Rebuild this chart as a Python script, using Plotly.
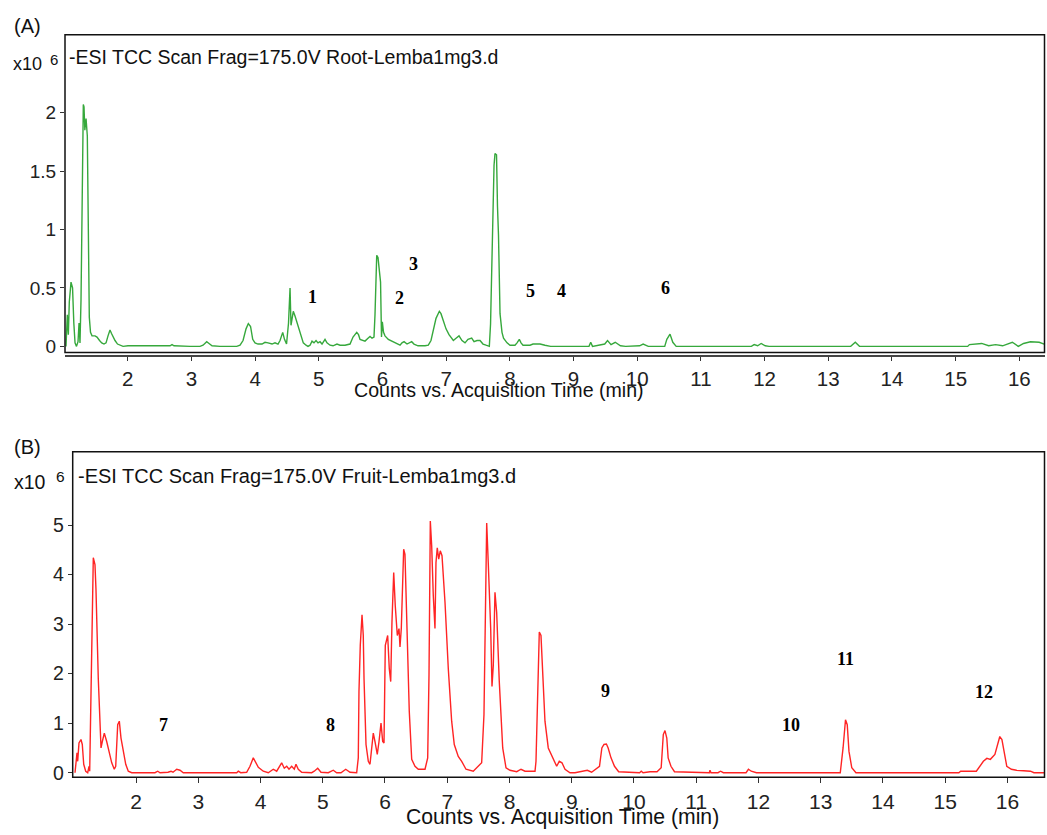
import plotly.graph_objects as go

# ---------------- data (signal in units of 10^6 counts) ----------------
root_time = [1.031, 1.052, 1.068, 1.083, 1.110, 1.134, 1.154, 1.173, 1.196, 1.220,
             1.236, 1.251, 1.267, 1.283, 1.303, 1.314, 1.327, 1.346, 1.366, 1.382,
             1.397, 1.416, 1.440, 1.487, 1.518, 1.558, 1.592, 1.628, 1.660, 1.691,
             1.722, 1.746, 1.770, 1.801, 1.840, 1.880, 1.927, 2.005, 2.115, 2.272,
             2.350, 2.429, 2.665, 2.696, 2.727, 2.979, 3.135, 3.183, 3.241, 3.277,
             3.324, 3.449, 3.712, 3.764, 3.811, 3.858, 3.894, 3.929, 3.963, 3.999,
             4.046, 4.109, 4.156, 4.203, 4.266, 4.313, 4.360, 4.392, 4.434, 4.462,
             4.494, 4.525, 4.549, 4.564, 4.600, 4.627, 4.658, 4.698, 4.729, 4.757,
             4.800, 4.831, 4.863, 4.894, 4.925, 4.957, 4.988, 5.020, 5.051, 5.098,
             5.129, 5.177, 5.224, 5.286, 5.334, 5.412, 5.491, 5.538, 5.596, 5.624,
             5.648, 5.695, 5.726, 5.773, 5.805, 5.836, 5.867, 5.883, 5.910, 5.930,
             5.954, 5.970, 5.985, 5.998, 6.017, 6.040, 6.092, 6.134, 6.197, 6.244,
             6.276, 6.307, 6.339, 6.386, 6.433, 6.459, 6.495, 6.558, 6.668, 6.720,
             6.762, 6.799, 6.841, 6.893, 6.919, 6.956, 6.998, 7.045, 7.113, 7.155,
             7.202, 7.249, 7.296, 7.343, 7.401, 7.438, 7.485, 7.532, 7.579, 7.626,
             7.678, 7.697, 7.720, 7.752, 7.767, 7.791, 7.806, 7.822, 7.846, 7.877,
             7.901, 7.956, 8.003, 8.081, 8.113, 8.149, 8.176, 8.207, 8.317, 8.364,
             8.427, 8.474, 8.552, 8.640, 9.243, 9.270, 9.298, 9.490, 9.534, 9.589,
             9.655, 9.737, 9.818, 10.038, 10.093, 10.174, 10.432, 10.465, 10.515, 10.559,
             10.612, 11.792, 11.836, 11.891, 11.946, 12.010, 12.070, 13.352, 13.424, 13.490,
             15.189, 15.216, 15.408, 15.518, 15.627, 15.737, 15.890, 15.984, 16.066, 16.175,
             16.312, 16.390]
root_signal = [0.00, 0.27, 0.10, 0.38, 0.55, 0.50, 0.20, 0.03, 0.00, 0.04,
               0.20, 0.03, 0.40, 1.30, 2.07, 2.05, 1.85, 1.95, 1.80, 1.00,
               0.25, 0.12, 0.09, 0.09, 0.08, 0.05, 0.03, 0.02, 0.03, 0.09,
               0.14, 0.11, 0.08, 0.05, 0.02, 0.01, 0.00, 0.005, 0.005, 0.00,
               0.005, 0.00, 0.005, 0.015, 0.005, 0.00, 0.00, 0.01, 0.04, 0.025,
               0.005, 0.00, 0.00, 0.01, 0.05, 0.15, 0.195, 0.17, 0.06, 0.03,
               0.02, 0.02, 0.035, 0.03, 0.02, 0.03, 0.02, 0.05, 0.12, 0.06,
               0.02, 0.20, 0.50, 0.18, 0.30, 0.26, 0.20, 0.13, 0.07, 0.03,
               0.01, 0.00, 0.01, 0.045, 0.03, 0.05, 0.03, 0.04, 0.02, 0.06,
               0.03, 0.01, 0.005, 0.02, 0.01, 0.01, 0.02, 0.08, 0.12, 0.10,
               0.06, 0.05, 0.045, 0.07, 0.085, 0.07, 0.08, 0.27, 0.78, 0.76,
               0.60, 0.55, 0.08, 0.21, 0.12, 0.09, 0.06, 0.05, 0.03, 0.02,
               0.01, 0.03, 0.04, 0.02, 0.03, 0.04, 0.02, 0.005, 0.005, 0.01,
               0.05, 0.14, 0.24, 0.30, 0.28, 0.22, 0.15, 0.10, 0.05, 0.07,
               0.09, 0.05, 0.03, 0.06, 0.07, 0.04, 0.05, 0.05, 0.02, 0.01,
               0.00, 0.19, 0.80, 1.55, 1.65, 1.64, 1.20, 0.95, 0.28, 0.12,
               0.07, 0.03, 0.01, 0.01, 0.03, 0.06, 0.03, 0.01, 0.01, 0.02,
               0.02, 0.02, 0.01, 0.00, 0.00, 0.035, 0.00, 0.02, 0.05, 0.015,
               0.035, 0.005, 0.00, 0.005, 0.02, 0.00, 0.00, 0.06, 0.105, 0.035,
               0.00, 0.00, 0.015, 0.005, 0.025, 0.005, 0.00, 0.00, 0.035, 0.00,
               0.00, 0.015, 0.025, 0.005, 0.015, 0.005, 0.035, 0.00, 0.025, 0.04,
               0.035, 0.02]

fruit_time = [1.020, 1.052, 1.063, 1.084, 1.116, 1.137, 1.160, 1.192, 1.224, 1.245,
              1.256, 1.277, 1.314, 1.341, 1.357, 1.394, 1.438, 1.459, 1.491, 1.529,
              1.566, 1.610, 1.651, 1.674, 1.706, 1.732, 1.759, 1.796, 1.835, 1.876,
              1.931, 2.305, 2.349, 2.386, 2.514, 2.562, 2.594, 2.654, 2.707, 2.760,
              3.618, 3.643, 3.682, 3.778, 3.831, 3.884, 3.923, 3.965, 4.045, 4.125,
              4.205, 4.260, 4.340, 4.382, 4.421, 4.458, 4.501, 4.543, 4.570, 4.607,
              4.662, 4.822, 4.864, 4.919, 4.972, 5.089, 5.169, 5.224, 5.293, 5.369,
              5.438, 5.545, 5.571, 5.582, 5.603, 5.631, 5.651, 5.663, 5.695, 5.732,
              5.759, 5.775, 5.812, 5.839, 5.876, 5.904, 5.936, 5.963, 5.984, 6.005,
              6.043, 6.069, 6.092, 6.112, 6.140, 6.165, 6.198, 6.225, 6.241, 6.262,
              6.284, 6.300, 6.321, 6.348, 6.390, 6.429, 6.482, 6.535, 6.643, 6.686,
              6.707, 6.728, 6.750, 6.776, 6.803, 6.819, 6.840, 6.863, 6.888, 6.916,
              6.964, 7.017, 7.071, 7.113, 7.177, 7.232, 7.301, 7.418, 7.499, 7.553,
              7.590, 7.611, 7.634, 7.659, 7.698, 7.719, 7.740, 7.767, 7.794, 7.836,
              7.891, 7.944, 8.008, 8.116, 8.185, 8.249, 8.410, 8.426, 8.453, 8.479,
              8.506, 8.533, 8.570, 8.623, 8.694, 8.758, 8.800, 8.843, 8.892, 8.972,
              9.052, 9.250, 9.319, 9.390, 9.446, 9.484, 9.518, 9.557, 9.585, 9.631,
              9.687, 9.754, 10.090, 10.117, 10.146, 10.257, 10.370, 10.437, 10.471, 10.498,
              10.527, 10.549, 10.594, 10.651, 11.211, 11.221, 11.237, 11.350, 11.391, 11.436,
              11.800, 11.839, 11.884, 11.968, 13.314, 13.359, 13.398, 13.426, 13.454, 13.499,
              13.566, 15.219, 15.248, 15.500, 15.557, 15.613, 15.669, 15.725, 15.798, 15.837,
              15.877, 15.911, 15.952, 15.989, 16.063, 16.145, 16.370, 16.426, 16.595]
fruit_signal = [0.00, 0.40, 0.23, 0.60, 0.67, 0.57, 0.17, 0.03, 0.00, 0.13,
                0.03, 1.90, 4.34, 4.20, 3.70, 1.90, 0.50, 0.63, 0.80, 0.63,
                0.40, 0.20, 0.07, 0.13, 0.97, 1.04, 0.70, 0.43, 0.17, 0.03,
                0.00, 0.00, 0.03, 0.00, 0.01, 0.03, 0.01, 0.07, 0.05, 0.00,
                0.00, 0.03, 0.00, 0.01, 0.13, 0.30, 0.20, 0.11, 0.03, 0.00,
                0.07, 0.03, 0.20, 0.09, 0.13, 0.07, 0.13, 0.07, 0.17, 0.07,
                0.01, 0.00, 0.03, 0.09, 0.01, 0.00, 0.05, 0.00, 0.00, 0.07,
                0.01, 0.00, 0.30, 1.64, 2.57, 3.19, 2.77, 1.90, 0.57, 0.23,
                0.17, 0.37, 0.80, 0.63, 0.37, 0.63, 1.00, 0.63, 0.60, 2.57,
                2.77, 2.10, 1.84, 3.04, 4.04, 3.37, 2.77, 2.91, 2.54, 2.91,
                3.90, 4.51, 4.41, 2.91, 1.24, 0.27, 0.13, 0.07, 0.07, 0.30,
                1.97, 5.08, 4.58, 3.57, 2.91, 4.24, 4.54, 4.31, 4.48, 4.38,
                3.44, 2.10, 1.04, 0.57, 0.33, 0.23, 0.07, 0.03, 0.13, 0.20,
                1.17, 3.57, 5.04, 4.24, 2.91, 1.74, 2.17, 3.64, 3.24, 1.84,
                0.50, 0.10, 0.05, 0.02, 0.07, 0.03, 0.03, 0.23, 1.57, 2.84,
                2.77, 2.04, 1.04, 0.50, 0.30, 0.13, 0.23, 0.20, 0.07, 0.00,
                0.00, 0.05, 0.01, 0.07, 0.13, 0.50, 0.57, 0.58, 0.50, 0.30,
                0.13, 0.02, 0.00, 0.03, 0.00, 0.02, 0.02, 0.10, 0.77, 0.85,
                0.70, 0.30, 0.13, 0.02, 0.00, 0.05, 0.00, 0.00, 0.03, 0.00,
                0.00, 0.07, 0.03, 0.00, 0.00, 0.50, 1.07, 0.97, 0.43, 0.10,
                0.00, 0.00, 0.03, 0.03, 0.13, 0.23, 0.29, 0.27, 0.37, 0.57,
                0.73, 0.67, 0.37, 0.13, 0.07, 0.05, 0.03, 0.00, 0.00]

root_labels = ["1", "2", "3", "5", "4", "6"]
root_label_time = [4.905, 6.275, 6.484, 8.328, 8.816, 10.449]
root_label_signal = [0.424, 0.41, 0.707, 0.472, 0.472, 0.498]

fruit_labels = ["7", "8", "9", "10", "11", "12"]
fruit_label_time = [2.439, 5.117, 9.541, 12.528, 13.398, 15.629]
fruit_label_signal = [0.968, 0.968, 1.655, 0.968, 2.305, 1.635]

root_yticks = [0, 0.5, 1, 1.5, 2]
root_ytext = ["0", "0.5", "1", "1.5", "2"]
fruit_yticks = [0, 1, 2, 3, 4, 5]
x_ticks = list(range(2, 17))

root_header = "-ESI TCC Scan Frag=175.0V Root-Lemba1mg3.d"
fruit_header = "-ESI TCC Scan Frag=175.0V Fruit-Lemba1mg3.d"
x_title = "Counts vs. Acquisition Time (min)"

# ---------------- layout geometry ----------------
W, H = 1047, 835
def px(x):
    return x / W
def py(y):
    return 1 - y / H

SANS = "Liberation Sans, Arial, sans-serif"
SERIF = "Liberation Serif, Times New Roman, serif"

top_dom_x = [px(65), px(1044.5)]
top_dom_y = [py(355), py(35)]
bot_dom_x = [px(72.7), px(1044.5)]
bot_dom_y = [py(783), py(455)]

fig = go.Figure()
fig.add_trace(go.Scatter(x=root_time, y=root_signal, mode="lines",
                         line=dict(color="#36a83c", width=1.4),
                         xaxis="x", yaxis="y", hoverinfo="skip"))
fig.add_trace(go.Scatter(x=fruit_time, y=fruit_signal, mode="lines",
                         line=dict(color="#ff2424", width=1.4),
                         xaxis="x2", yaxis="y2", hoverinfo="skip"))

annotations = []
for lab, t, v in zip(root_labels, root_label_time, root_label_signal):
    annotations.append(dict(x=t, y=v, xref="x", yref="y", text="<b>%s</b>" % lab,
                            showarrow=False, font=dict(family=SERIF, size=18, color="black")))
for lab, t, v in zip(fruit_labels, fruit_label_time, fruit_label_signal):
    annotations.append(dict(x=t, y=v, xref="x2", yref="y2", text="<b>%s</b>" % lab,
                            showarrow=False, font=dict(family=SERIF, size=18, color="black")))

def txt(x, y, s, size, anchor="left"):
    return dict(x=px(x), y=py(y), xref="paper", yref="paper", text=s, showarrow=False,
                xanchor=anchor, yanchor="middle",
                font=dict(family=SANS, size=size, color="#111"))

annotations += [
    txt(12, 26.5, "(A)", 20),
    txt(11, 64, "x10", 18),
    txt(48, 60, "6", 15),
    txt(67, 57.5, root_header, 19.5),
    txt(499, 393, x_title, 19.6, "center"),
    txt(12, 450, "(B)", 20),
    txt(12, 485, "x10", 19.5),
    txt(54, 480, "6", 15.5),
    txt(76, 479, fruit_header, 20),
    txt(562, 823, x_title, 21.2, "center"),
]

shapes = [
    dict(type="rect", xref="paper", yref="paper", x0=top_dom_x[0], x1=top_dom_x[1],
         y0=top_dom_y[0], y1=top_dom_y[1], line=dict(color="#111", width=1.5)),
    dict(type="rect", xref="paper", yref="paper", x0=bot_dom_x[0], x1=bot_dom_x[1],
         y0=bot_dom_y[0], y1=bot_dom_y[1], line=dict(color="#111", width=1.5)),
]

axis_common = dict(showgrid=False, zeroline=False, ticks="outside", tickcolor="#333",
                   tickwidth=1)

fig.update_layout(
    width=W, height=H, margin=dict(l=0, r=0, t=0, b=0),
    paper_bgcolor="white", plot_bgcolor="white", showlegend=False,
    xaxis=dict(domain=top_dom_x, range=[1.0155, 16.395], anchor="free", position=py(359),
               tickvals=x_ticks, ticklen=4, showline=True, linecolor="#444", linewidth=1.5,
               tickfont=dict(family=SANS, size=20.5, color="#222"), **axis_common),
    yaxis=dict(domain=top_dom_y, range=[-0.052, 2.667], anchor="x",
               tickvals=root_yticks, ticktext=root_ytext, ticklen=4, showline=False,
               tickfont=dict(family=SANS, size=19, color="#222"), **axis_common),
    xaxis2=dict(domain=bot_dom_x, range=[0.983, 16.595], anchor="y2",
                tickvals=x_ticks, ticklen=5, showline=False,
                tickfont=dict(family=SANS, size=21, color="#222"), **axis_common),
    yaxis2=dict(domain=bot_dom_y, range=[-0.094, 6.479], anchor="x2",
                tickvals=fruit_yticks, ticklen=4, showline=False,
                tickfont=dict(family=SANS, size=19.5, color="#222"), **axis_common),
    annotations=annotations, shapes=shapes,
)

fig.write_html(
    "out.html",
    config={"displayModeBar": False},
    post_script="document.body.style.margin='0px';document.body.style.overflow='hidden';",
)
